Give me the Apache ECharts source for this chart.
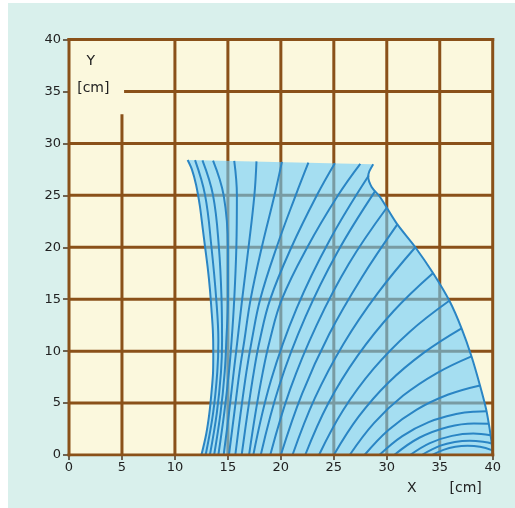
<!DOCTYPE html>
<html>
<head>
<meta charset="utf-8">
<script src="https://cdn.jsdelivr.net/npm/echarts/dist/echarts.min.js"></script>
<style>
  html, body { margin: 0; padding: 0; background: #ffffff; }
  #chart { position: absolute; left: 8px; top: 3px; width: 507px; height: 505px; background: #d9f0ec; }
</style>
</head>
<body>
<div id="chart"></div>
<script>
// Axis ticks (cm)
const xTicks = [0, 5, 10, 15, 20, 25, 30, 35, 40];
const yTicks = [0, 5, 10, 15, 20, 25, 30, 35, 40];
const xTickLabels = ['0', '5', '10', '15', '20', '25', '30', '35', '40'];
const yTickLabels = ['0', '5', '10', '15', '20', '25', '30', '35', '40'];

// Outline of the shaded region: left edge bottom -> top
const leftEdge = [
  [12.5, 0], [12.95, 2], [13.25, 4], [13.45, 6], [13.6, 8], [13.62, 10],
  [13.58, 12], [13.45, 14], [13.3, 16], [13.1, 18], [12.85, 20], [12.6, 22],
  [12.35, 24], [12.0, 26], [11.6, 27.5], [11.2, 28.4]
];
// top-right corner, notch, then the outer arc down to the x axis
const rightEdge = [
  [28.72, 28.0], [28.35, 27.3], [28.25, 26.8], [28.57, 25.8], [29.35, 24.86],
  [30.93, 22.3], [32.66, 20.05], [34.38, 17.49], [35.96, 14.75], [37.06, 12.19],
  [38.01, 9.46], [38.8, 6.7], [39.36, 4.5], [39.7, 2.6], [39.92, 1.0], [40, 0]
];

// Field lines that end on the upper edge
const upperLines = [
  [[12.9, 0], [13.6, 4], [14.0, 8], [14.1, 11], [13.9, 15], [13.45, 20], [12.85, 25], [11.9, 28.38]],
  [[13.3, 0], [13.95, 4], [14.35, 8], [14.45, 11], [14.4, 15], [14.15, 20], [13.6, 25], [12.6, 28.37]],
  [[13.7, 0], [14.3, 4], [14.7, 8], [14.85, 11], [15.0, 15], [15.0, 20], [14.6, 25], [13.6, 28.35]],
  [[14.1, 0], [14.65, 4], [15.1, 8], [15.35, 11], [15.6, 15], [15.8, 20], [15.85, 25], [15.6, 28.31]],
  [[14.6, 0], [15.1, 4], [15.55, 8], [15.9, 11], [16.35, 15], [16.95, 20], [17.5, 25], [17.7, 28.27]],
  [[15.1, 0], [15.6, 4], [16.1, 8], [16.55, 11], [17.15, 15], [18.2, 20], [19.4, 25], [20.1, 28.22]],
  [[15.7, 0], [16.2, 4], [16.75, 8], [17.25, 11], [18.05, 15], [19.6, 20], [21.4, 25], [22.6, 28.15]],
  [[16.3, 0], [16.85, 4], [17.45, 8], [18.0, 11], [19.0, 15], [21.0, 20], [23.4, 25], [25.1, 28.09]],
  [[17.0, 0], [17.6, 4], [18.3, 8], [18.95, 11], [20.1, 15], [22.5, 20], [25.4, 25], [27.5, 28.03]]
];

// Field lines that end on the outer arc
const outerLines = [
  [[17.4, 0], [19.07, 7.19], [21.49, 14.11], [24.63, 20.72], [28.3, 26.9]],
  [[18.1, 0], [19.87, 6.74], [22.31, 13.27], [25.35, 19.54], [28.9, 25.4]],
  [[19.0, 0], [20.89, 6.36], [23.38, 12.51], [26.42, 18.41], [30.0, 23.8]],
  [[20.0, 0], [22.01, 5.92], [24.56, 11.63], [27.63, 17.07], [31.0, 22.2]],
  [[21.1, 0], [23.21, 5.47], [25.91, 10.69], [29.15, 15.58], [32.7, 20.0]],
  [[22.3, 0], [24.47, 4.96], [27.27, 9.59], [30.63, 13.84], [34.35, 17.5]],
  [[23.6, 0], [25.89, 4.33], [28.76, 8.31], [32.15, 11.85], [35.9, 14.85]],
  [[25.0, 0], [27.34, 3.69], [30.19, 7.01], [33.51, 9.86], [37.06, 12.2]],
  [[26.5, 0], [28.79, 3.07], [31.55, 5.72], [34.73, 7.89], [38.0, 9.5]],
  [[27.9, 0], [30.16, 2.41], [32.83, 4.37], [35.81, 5.82], [38.8, 6.7]],
  [[29.3, 0], [31.47, 1.82], [33.96, 3.17], [36.68, 3.97], [38.24, 4.17], [39.4, 4.2]],
  [[30.7, 0], [33.07, 1.66], [35.78, 2.70], [38.23, 3.04], [39.62, 3.0]],
  [[32.2, 0], [34.07, 1.15], [36.15, 1.84], [38.17, 2.06], [39.8, 1.9]],
  [[33.3, 0], [35.06, 0.9], [36.42, 1.26], [37.83, 1.38], [39.23, 1.26], [39.92, 1.1]],
  [[34.3, 0], [35.35, 0.49], [36.47, 0.79], [37.62, 0.89], [38.8, 0.79], [39.98, 0.45]]
];

const BROWN = '#8a5119';
const BLUE_LINE = '#2a85c4';
const FILL = 'rgba(108,205,255,0.6)';

// Grid lines are cut short around the "Y [cm]" caption in the top-left cell
const captionRight = 5.2;
const captionBottom = 32.8;

const xMin = xTicks[0], xMax = xTicks[xTicks.length - 1];
const yMin = yTicks[0], yMax = yTicks[yTicks.length - 1];

function segment(points, z, color, width, cap) {
  return {
    type: 'line', data: points, symbol: 'none', silent: true, z: z,
    lineStyle: { color: color, width: width, cap: cap || 'butt' },
    animation: false
  };
}

const series = [];

// interior grid
xTicks.slice(1, -1).forEach(v => {
  const top = v === 5 ? captionBottom : yMax;
  series.push(segment([[v, yMin], [v, top]], 1, BROWN, 3));
});
yTicks.slice(1, -1).forEach(v => {
  const left = v === 35 ? captionRight : xMin;
  series.push(segment([[left, v], [xMax, v]], 1, BROWN, 3));
});

// shaded region
const outline = leftEdge.concat(rightEdge);
series.push({
  type: 'custom', z: 2, silent: true, animation: false,
  data: [[0, 0]],
  renderItem: function (params, api) {
    return {
      type: 'polygon',
      shape: { points: outline.map(p => api.coord(p)) },
      style: { fill: FILL }
    };
  }
});

// region edges
[leftEdge, rightEdge].forEach(e => {
  const s = segment(e, 3, BLUE_LINE, 2);
  s.smooth = 0.3;
  series.push(s);
});

// field lines
upperLines.concat(outerLines).forEach(c => {
  const s = segment(c, 3, BLUE_LINE, 2);
  s.smooth = 0.4;
  series.push(s);
});

// frame
series.push(segment([[xMin, yMin], [xMax, yMin]], 5, BROWN, 3, 'square'));
series.push(segment([[xMin, yMax], [xMax, yMax]], 5, BROWN, 3, 'square'));
series.push(segment([[xMin, yMin], [xMin, yMax]], 5, BROWN, 3, 'square'));
series.push(segment([[xMax, yMin], [xMax, yMax]], 5, BROWN, 3, 'square'));

const labelStyle = { color: '#222', fontFamily: 'DejaVu Sans', fontSize: 13 };

const chart = echarts.init(document.getElementById('chart'));
chart.setOption({
  animation: false,
  grid: {
    left: 61, top: 36.5, width: 423.7, height: 415.5,
    show: true, backgroundColor: '#fbf8dd', borderWidth: 0
  },
  xAxis: {
    type: 'value', min: xMin, max: xMax, interval: 5,
    axisLine: { show: false },
    axisTick: { show: true, length: 5, lineStyle: { color: '#4a3520', width: 1.5 } },
    axisLabel: Object.assign({ margin: 6, formatter: v => xTickLabels[xTicks.indexOf(v)] }, labelStyle),
    splitLine: { show: false }
  },
  yAxis: {
    type: 'value', min: yMin, max: yMax, interval: 5,
    axisLine: { show: false },
    axisTick: { show: true, length: 6, lineStyle: { color: '#4a3520', width: 1.5 } },
    axisLabel: Object.assign({ margin: 8, formatter: v => yTickLabels[yTicks.indexOf(v)] }, labelStyle),
    splitLine: { show: false }
  },
  graphic: [
    { type: 'text', x: 82.7, y: 58.7, z: 10, style: { text: 'Y', font: '14px "DejaVu Sans"', fill: '#222', align: 'center', verticalAlign: 'middle' } },
    { type: 'text', x: 85.3, y: 85.3, z: 10, style: { text: '[cm]', font: '14px "DejaVu Sans"', fill: '#222', align: 'center', verticalAlign: 'middle' } },
    { type: 'text', x: 403.7, y: 485.3, z: 10, style: { text: 'X', font: '14px "DejaVu Sans"', fill: '#222', align: 'center', verticalAlign: 'middle' } },
    { type: 'text', x: 457.7, y: 485, z: 10, style: { text: '[cm]', font: '14px "DejaVu Sans"', fill: '#222', align: 'center', verticalAlign: 'middle' } }
  ],
  series: series
});
</script>
</body>
</html>
